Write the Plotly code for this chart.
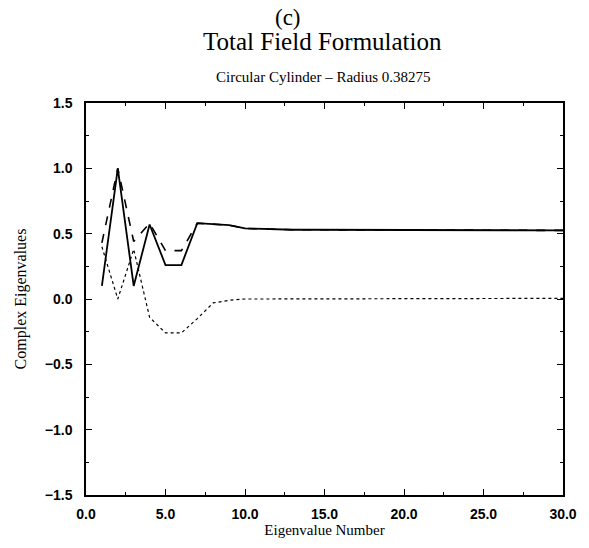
import plotly.graph_objects as go

# Eigenvalue index
n = list(range(1, 31))

# Three curves
solid = [0.10, 1.00, 0.10, 0.57, 0.26, 0.26, 0.58, 0.57, 0.565, 0.54,
         0.535, 0.53, 0.53, 0.53, 0.53, 0.53, 0.53, 0.53, 0.53, 0.53,
         0.53, 0.53, 0.53, 0.53, 0.53, 0.525, 0.525, 0.525, 0.525, 0.525]
dashed = [0.43, 1.00, 0.44, 0.58, 0.37, 0.37, 0.58, 0.57, 0.565, 0.54,
          0.535, 0.53, 0.53, 0.53, 0.53, 0.53, 0.53, 0.53, 0.53, 0.53,
          0.53, 0.53, 0.53, 0.53, 0.53, 0.525, 0.525, 0.525, 0.525, 0.525]
dotted = [0.40, 0.00, 0.38, -0.14, -0.26, -0.26, -0.15, -0.03, -0.01, 0.0,
          0.0, 0.0, 0.0, 0.0, 0.0, 0.0, 0.0, 0.0, 0.0, 0.0,
          0.0, 0.0, 0.0, 0.0, 0.0, 0.0, 0.0, 0.0, 0.0, 0.005]

xticks = [0, 5, 10, 15, 20, 25, 30]
yticks = [-1.5, -1.0, -0.5, 0.0, 0.5, 1.0, 1.5]

serif = "Liberation Serif, Times New Roman, serif"
sans = "Liberation Sans, Arial, sans-serif"

fig = go.Figure()
fig.add_trace(go.Scatter(x=n, y=dotted, mode="lines",
                         line=dict(color="black", width=1.2, dash="dot")))
fig.add_trace(go.Scatter(x=n, y=dashed, mode="lines",
                         line=dict(color="black", width=1.6, dash="dash")))
fig.add_trace(go.Scatter(x=n, y=solid, mode="lines",
                         line=dict(color="black", width=1.8)))

tickfont = dict(family=sans, size=14, color="black", weight="bold")

fig.update_layout(
    width=589, height=548,
    margin=dict(l=86, r=18, t=103, b=48),
    paper_bgcolor="white", plot_bgcolor="white",
    showlegend=False,
    font=dict(family=sans, color="black"),
    xaxis=dict(range=[0, 30], tickvals=xticks, ticktext=[f"{v:.1f}" for v in xticks],
               ticks="inside", ticklen=6, tickwidth=1, tickcolor="black",
               minor=dict(dtick=2.5, ticks="inside", ticklen=3, tickcolor="black"),
               showline=True, linecolor="black", linewidth=1.5, mirror="ticks",
               showgrid=False, zeroline=False, ticklabelstandoff=5,
               tickfont=tickfont,
               title=dict(text="Eigenvalue Number", font=dict(family=serif, size=15),
                          standoff=4)),
    yaxis=dict(range=[-1.5, 1.5], tickvals=yticks, tickformat=".1f",
               ticks="inside", ticklen=6, tickwidth=1, tickcolor="black",
               minor=dict(dtick=0.25, ticks="inside", ticklen=3, tickcolor="black"),
               showline=True, linecolor="black", linewidth=1.5, mirror="ticks",
               showgrid=False, zeroline=False, ticklabelstandoff=9,
               tickfont=tickfont,
               title=dict(text="Complex Eigenvalues", font=dict(family=serif, size=16),
                          standoff=14)),
    annotations=[
        dict(text="(c)", x=291, y=16, showarrow=False,
             font=dict(family=serif, size=23, color="black")),
        dict(text="Total Field Formulation", x=326, y=41, showarrow=False,
             font=dict(family=serif, size=25, color="black")),
        dict(text="Circular Cylinder \u2013 Radius 0.38275", x=327, y=77, showarrow=False,
             font=dict(family=serif, size=15, color="black")),
    ],
)

# convert pixel positions for annotations to paper coordinates
W, H = 589, 548
l, r, t, b = 86, 18, 103, 48
pw, ph = W - l - r, H - t - b
for a in fig.layout.annotations:
    px, py = a.x, a.y
    a.xref = "paper"; a.yref = "paper"
    a.x = (px - l) / pw
    a.y = 1 + (t - py) / ph
    a.xanchor = "center"; a.yanchor = "middle"

fig.write_html("out.html")
